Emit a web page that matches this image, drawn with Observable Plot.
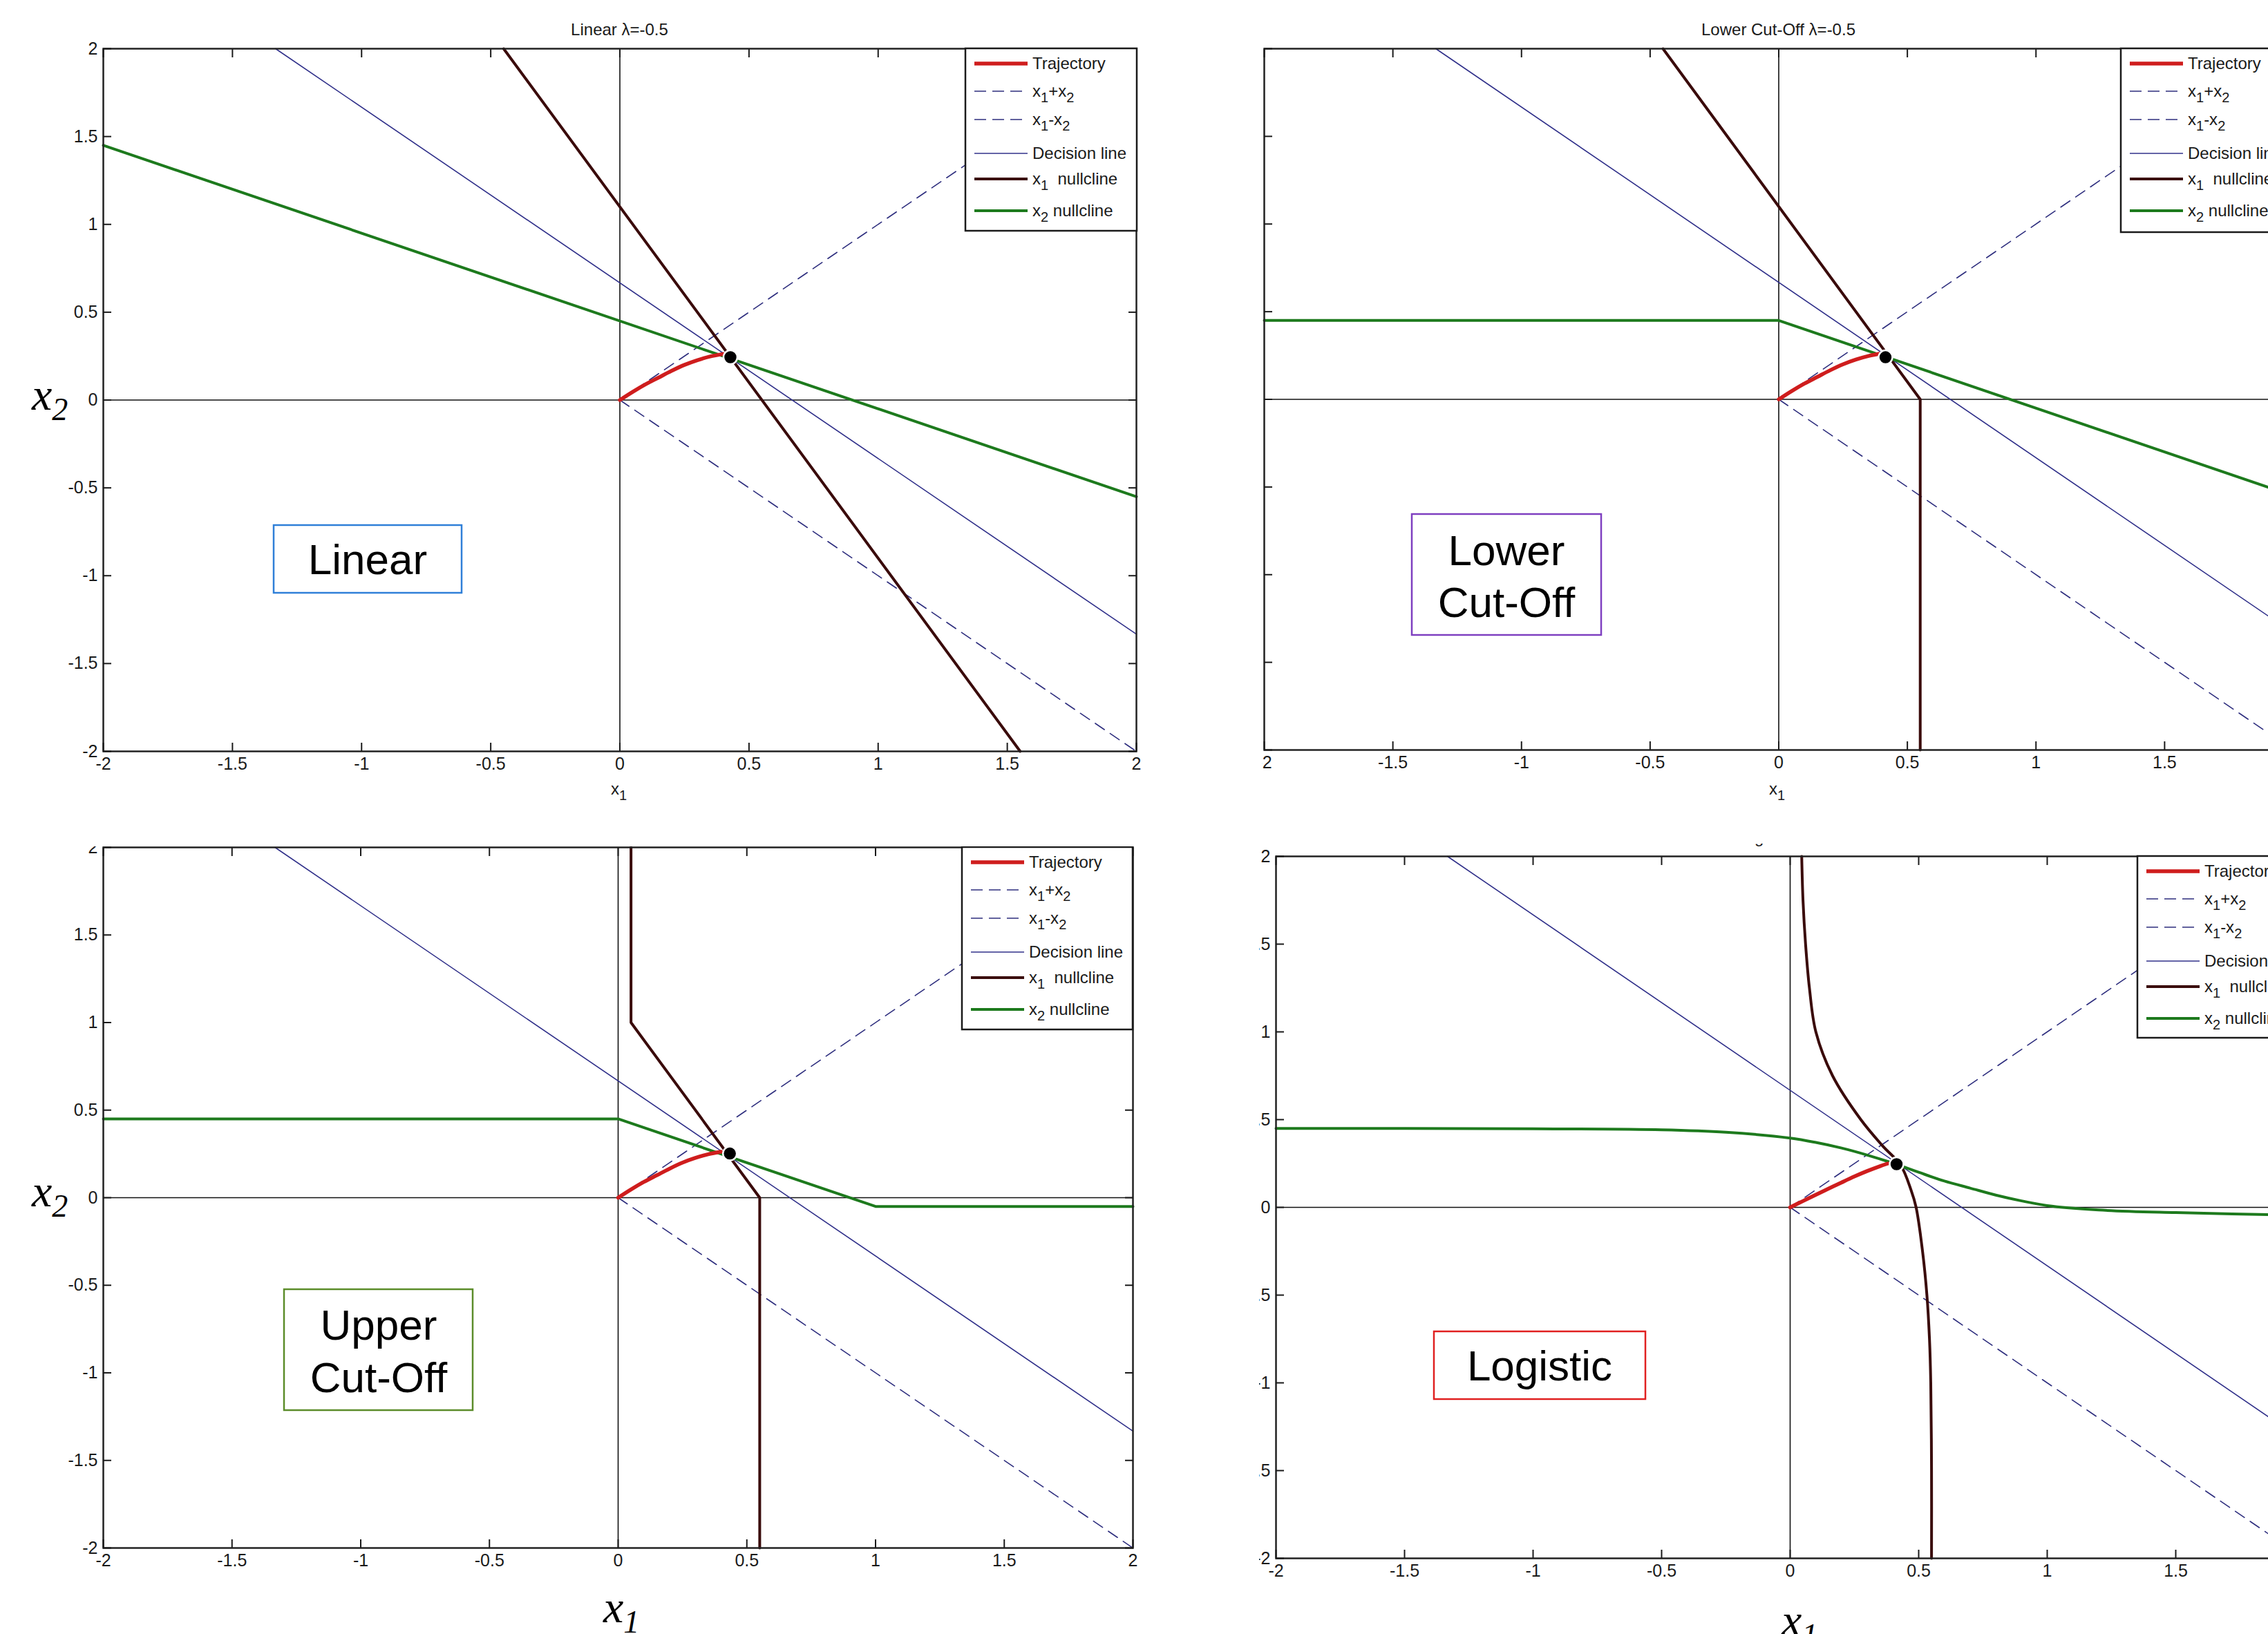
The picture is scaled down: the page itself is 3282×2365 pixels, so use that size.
<!DOCTYPE html>
<html><head><meta charset="utf-8">
<script src="https://cdn.jsdelivr.net/npm/d3@7"></script>
<script src="https://cdn.jsdelivr.net/npm/@observablehq/plot@0.6"></script>
<style>
html,body{margin:0;padding:0;background:#fff;}
body{width:3282px;height:2365px;position:relative;overflow:hidden;font-family:Arial,"Liberation Sans",sans-serif;}
.clip{position:absolute;overflow:hidden;}
</style></head><body>
<script>
// ---------- data ----------
const tickValues = [-2, -1.5, -1, -0.5, 0, 0.5, 1, 1.5, 2];
const tickLabels = ["-2", "-1.5", "-1", "-0.5", "0", "0.5", "1", "1.5", "2"];

const sumDirX = [0, 2];
const sumDirY = [0, 2];
const diffDirX = [0, 2];
const diffDirY = [0, -2];
const decisionX = [-1.333, 2];
const decisionY = [2, -1.333];

const linearX1NullX = [-0.45, 1.55];
const linearX1NullY = [2, -2];
const linearX2NullX = [-2, 2];
const linearX2NullY = [1.45, -0.55];

const lowerX1NullX = [-0.45, 0.55, 0.55];
const lowerX1NullY = [2, 0, -2];
const lowerX2NullX = [-2, 0, 2];
const lowerX2NullY = [0.45, 0.45, -0.55];

const upperX1NullX = [0.05, 0.05, 0.55, 0.55];
const upperX1NullY = [2, 1, 0, -2];
const upperX2NullX = [-2, 0, 1, 2];
const upperX2NullY = [0.45, 0.45, -0.05, -0.05];

const logisticX1NullX = [0.045, 0.05, 0.06, 0.075, 0.1, 0.165, 0.275, 0.36, 0.43, 0.47, 0.49, 0.515, 0.532, 0.542, 0.547, 0.55, 0.55];
const logisticX1NullY = [2, 1.75, 1.5, 1.25, 1.0, 0.75, 0.5, 0.35, 0.24, 0.1, 0, -0.25, -0.5, -0.75, -1, -1.5, -2];
const logisticX2NullX = [-2, -1.5, -1, -0.5, -0.25, 0, 0.1, 0.2, 0.3, 0.4, 0.5, 0.6, 0.7, 0.8, 0.9, 1.0, 1.2, 1.5, 2];
const logisticX2NullY = [0.45, 0.45, 0.448, 0.442, 0.428, 0.395, 0.37, 0.338, 0.298, 0.252, 0.2, 0.15, 0.11, 0.07, 0.037, 0.01, -0.015, -0.03, -0.045];

const trajX = [0, 0.05, 0.1, 0.15, 0.2, 0.25, 0.3, 0.35, 0.4];
const trajY = [0, 0.047, 0.09, 0.128, 0.166, 0.2, 0.227, 0.248, 0.262];
const logisticTrajX = [0, 0.05, 0.1, 0.15, 0.2, 0.25, 0.3, 0.35, 0.38];
const logisticTrajY = [0, 0.036, 0.072, 0.107, 0.142, 0.176, 0.207, 0.235, 0.25];

const fixedPointX = [0.428, 0.415, 0.434, 0.414];
const fixedPointY = [0.244, 0.24, 0.252, 0.246];

const panelTitles = ["Linear λ=-0.5", "Lower Cut-Off λ=-0.5", "Upper Cut-Off λ=-0.5", "Logistic λ=-0.5"];
const tagLines = [["Linear"], ["Lower", "Cut-Off"], ["Upper", "Cut-Off"], ["Logistic"]];
const legendLabels = [
  [["Trajectory", 0]],
  [["x", 0], ["1", 1], ["+x", 0], ["2", 1]],
  [["x", 0], ["1", 1], ["-x", 0], ["2", 1]],
  [["Decision line", 0]],
  [["x", 0], ["1", 1], ["\u00a0\u00a0nullcline", 0]],
  [["x", 0], ["2", 1], ["\u00a0nullcline", 0]]
];

// ---------- styles ----------
const C = {traj: "#cf1d1d", dir: "#2e2e7e", decision: "#30308a", x1: "#3a0b0b", x2: "#1d7a1d", axis: "#111"};
const legendStyles = [
  {stroke: C.traj, w: 5.5, dash: null},
  {stroke: C.dir, w: 1.6, dash: "17,9"},
  {stroke: C.dir, w: 1.6, dash: "17,9"},
  {stroke: C.decision, w: 1.6, dash: null},
  {stroke: C.x1, w: 4, dash: null},
  {stroke: C.x2, w: 4, dash: null}
];
const legendRowY = [22, 62, 103, 152, 189, 235];
const ML = 110, MR = 20, MT = 70, MB = 100;

const pts = (xs, ys) => xs.map((x, i) => ({x, y: ys[i]}));

const panels = [
  {clip: [0, 0, 1760, 1205], frame: [149, 70, 1495, 1017], curve: "linear",
   x1: pts(linearX1NullX, linearX1NullY), x2: pts(linearX2NullX, linearX2NullY), traj: pts(trajX, trajY),
   smallX: [884, 1150], bigY: [46, 593], bigX: null,
   legend: [1397, 70, 248, 264],
   tag: {rect: [396, 760, 272, 98], color: "#2f7fd8", cx: 532, ys: [809]}},
  {clip: [1826, 0, 1456, 1205], frame: [1829, 70, 1489, 1015], curve: "linear",
   x1: pts(lowerX1NullX, lowerX1NullY), x2: pts(lowerX2NullX, lowerX2NullY), traj: pts(trajX, trajY),
   smallX: [2560, 1150], bigY: null, bigX: null,
   legend: [3069, 70, 248, 266],
   tag: {rect: [2043, 744, 274, 175], color: "#7e3fc0", cx: 2180, ys: [796, 871]}},
  {clip: [0, 1225, 1760, 1140], frame: [149, 1226, 1490, 1014], curve: "linear",
   x1: pts(upperX1NullX, upperX1NullY), x2: pts(upperX2NullX, upperX2NullY), traj: pts(trajX, trajY),
   smallX: null, bigY: [46, 1746], bigX: [873, 2348],
   legend: [1392, 1226, 247, 264],
   tag: {rect: [411, 1866, 273, 175], color: "#5b8c2a", cx: 548, ys: [1917, 1993]}},
  {clip: [1822, 1221, 1460, 1144], frame: [1846, 1239, 1488, 1016], curve: "catmull-rom",
   x1: pts(logisticX1NullX, logisticX1NullY), x2: pts(logisticX2NullX, logisticX2NullY), traj: pts(logisticTrajX, logisticTrajY),
   smallX: null, bigY: null, bigX: [2578, 2367],
   legend: [3093, 1239, 241, 263],
   tag: {rect: [2075, 1927, 306, 98], color: "#e02020", cx: 2228, ys: [1976]}}
];

const fmt = d => tickLabels[tickValues.indexOf(d)];
const noText = () => "";

function makePlot(p, i) {
  const [fx, fy, fw, fh] = p.frame;
  const lineOpts = {x: "x", y: "y"};
  const svg = Plot.plot({
    width: fw + ML + MR, height: fh + MT + MB,
    marginLeft: ML, marginRight: MR, marginTop: MT, marginBottom: MB,
    x: {domain: [-2, 2], label: null},
    y: {domain: [-2, 2], label: null},
    style: {fontFamily: "Arial, 'Liberation Sans', sans-serif", fontSize: "25px", color: "#1a1a1a", background: "transparent", overflow: "visible"},
    marks: [
      Plot.ruleY([0], {stroke: C.axis, strokeWidth: 1.6}),
      Plot.ruleX([0], {stroke: C.axis, strokeWidth: 1.6}),
      Plot.line(pts(decisionX, decisionY), {...lineOpts, stroke: C.decision, strokeWidth: 1.6}),
      Plot.line(pts(sumDirX, sumDirY), {...lineOpts, stroke: C.dir, strokeWidth: 1.6, strokeDasharray: "16,10"}),
      Plot.line(pts(diffDirX, diffDirY), {...lineOpts, stroke: C.dir, strokeWidth: 1.6, strokeDasharray: "16,10"}),
      Plot.line(p.x1, {...lineOpts, stroke: C.x1, strokeWidth: 4, curve: p.curve}),
      Plot.line(p.x2, {...lineOpts, stroke: C.x2, strokeWidth: 4, curve: p.curve}),
      Plot.line(p.traj, {...lineOpts, stroke: C.traj, strokeWidth: 5.5, curve: "catmull-rom"}),
      Plot.dot([{x: fixedPointX[i], y: fixedPointY[i]}], {x: "x", y: "y", r: 10, fill: "#000", stroke: "#fff", strokeWidth: 2.5}),
      Plot.frame({stroke: "#222", strokeWidth: 2.5}),
      Plot.axisX(tickValues, {anchor: "bottom", tickSize: -12, tickFormat: noText, strokeWidth: 2, label: null}),
      Plot.axisX(tickValues, {anchor: "top", tickSize: -12, tickFormat: noText, strokeWidth: 2, label: null}),
      Plot.axisY(tickValues, {anchor: "left", tickSize: -12, tickFormat: noText, strokeWidth: 2, label: null}),
      Plot.axisY(tickValues, {anchor: "right", tickSize: -12, tickFormat: noText, strokeWidth: 2, label: null}),
      Plot.axisX(tickValues, {anchor: "bottom", tickSize: 0, tickPadding: 9, tickFormat: fmt, fontSize: 25, label: null}),
      Plot.axisY(tickValues, {anchor: "left", tickSize: 0, tickPadding: 8, tickFormat: fmt, fontSize: 25, label: null})
    ]
  });
  svg.style.position = "absolute";
  svg.style.left = (fx - ML - p.clip[0]) + "px";
  svg.style.top = (fy - MT - p.clip[1]) + "px";
  svg.style.maxWidth = "none";
  svg.style.height = (fh + MT + MB) + "px";
  return svg;
}

function rich(textSel, parts, size, subSize, subDy) {
  let shift = 0;
  for (const [t, sub] of parts) {
    const want = sub ? subDy : 0;
    textSel.append("tspan").attr("dy", want - shift).attr("font-size", sub ? subSize : size).text(t);
    shift = want;
  }
}

function overlay(div, p, i) {
  const [cx0, cy0, cw, ch] = p.clip;
  const [fx, fy, fw, fh] = p.frame;
  const svg = d3.select(div).append("svg")
    .attr("width", cw).attr("height", ch)
    .style("position", "absolute").style("left", "0px").style("top", "0px").style("overflow", "hidden");
  const g = svg.append("g").attr("transform", `translate(${-cx0},${-cy0})`)
    .attr("font-family", "Arial, 'Liberation Sans', sans-serif").attr("fill", "#1a1a1a");

  // title
  g.append("text").attr("x", fx + fw / 2).attr("y", fy - 28).attr("text-anchor", "middle")
    .attr("dominant-baseline", "central").attr("font-size", 24).text(panelTitles[i]);

  // small matlab x label
  if (p.smallX) {
    const t = g.append("text").attr("x", p.smallX[0]).attr("y", p.smallX[1]);
    rich(t, [["x", 0], ["1", 1]], 24, 20, 8);
  }
  // big serif labels
  const serif = "'Liberation Serif', 'Times New Roman', serif";
  if (p.bigY) {
    const t = g.append("text").attr("x", p.bigY[0]).attr("y", p.bigY[1]).attr("font-family", serif)
      .attr("font-style", "italic").attr("fill", "#000");
    rich(t, [["x", 0], ["2", 1]], 66, 46, 15);
  }
  if (p.bigX) {
    const t = g.append("text").attr("x", p.bigX[0]).attr("y", p.bigX[1]).attr("font-family", serif)
      .attr("font-style", "italic").attr("fill", "#000");
    rich(t, [["x", 0], ["1", 1]], 66, 46, 15);
  }

  // legend
  const [lx, ly, lw, lh] = p.legend;
  const lg = g.append("g").attr("transform", `translate(${lx},${ly})`);
  lg.append("rect").attr("width", lw).attr("height", lh).attr("fill", "#fff").attr("stroke", "#1a1a1a").attr("stroke-width", 2.5);
  legendLabels.forEach((parts, k) => {
    const s = legendStyles[k], yy = legendRowY[k];
    lg.append("line").attr("x1", 13).attr("x2", 90).attr("y1", yy).attr("y2", yy)
      .attr("stroke", s.stroke).attr("stroke-width", s.w).attr("stroke-dasharray", s.dash);
    const t = lg.append("text").attr("x", 97).attr("y", yy + 8).attr("font-size", 24);
    rich(t, parts, 24, 20, 8);
  });

  // annotation tag
  const tg = p.tag;
  g.append("rect").attr("x", tg.rect[0]).attr("y", tg.rect[1]).attr("width", tg.rect[2]).attr("height", tg.rect[3])
    .attr("fill", "#fff").attr("stroke", tg.color).attr("stroke-width", 2.5);
  tagLines[i].forEach((line, k) => {
    g.append("text").attr("x", tg.cx).attr("y", tg.ys[k]).attr("text-anchor", "middle")
      .attr("dominant-baseline", "central").attr("font-size", 62).attr("fill", "#000").text(line);
  });
}

panels.forEach((p, i) => {
  const div = document.createElement("div");
  div.className = "clip";
  div.style.left = p.clip[0] + "px";
  div.style.top = p.clip[1] + "px";
  div.style.width = p.clip[2] + "px";
  div.style.height = p.clip[3] + "px";
  document.body.appendChild(div);
  div.appendChild(makePlot(p, i));
  overlay(div, p, i);
});
</script>
</body></html>
